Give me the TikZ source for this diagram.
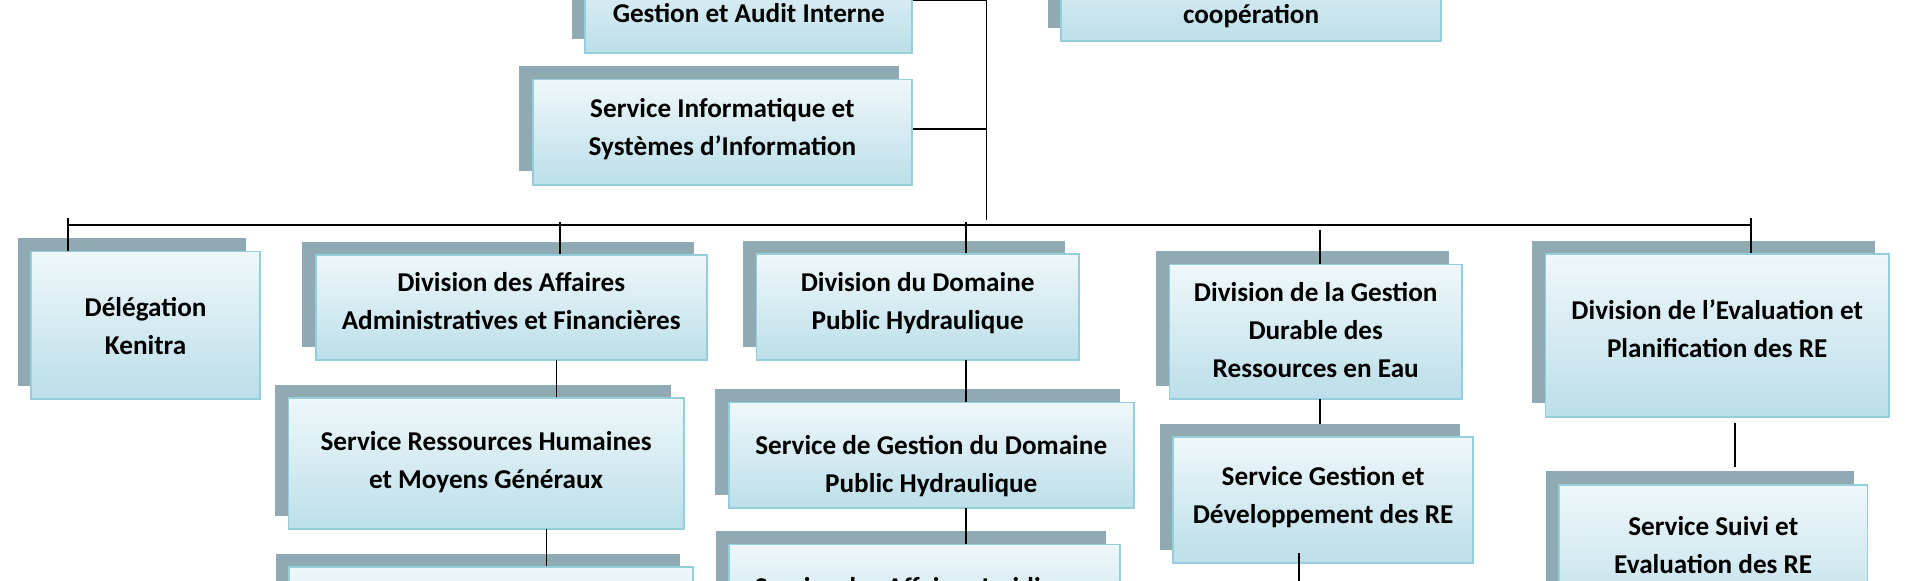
\documentclass[tikz,border=0pt]{standalone}
\usepackage{fontspec}
\setmainfont{Carlito}
\usetikzlibrary{shadows}
\definecolor{shadowc}{HTML}{8FAAB2}
\definecolor{boxborder}{HTML}{94CEDD}
\definecolor{boxbot}{HTML}{B8DDE8}
\definecolor{boxtop}{HTML}{FCFEFE}
\pgfdeclareverticalshading{boxgrad}{100bp}{color(0bp)=(boxbot); color(22bp)=(boxbot); color(88bp)=(boxtop); color(100bp)=(boxtop)}
\begin{document}
\begin{tikzpicture}[x=1pt,y=-1pt,
  orgbox/.style={rectangle, draw=boxborder, line width=1.4pt, shade, shading=boxgrad, inner sep=0pt,
    general shadow={fill=shadowc, shadow xshift=-11pt, shadow yshift=11pt}},
  lbl/.style={font=\fontsize{22.2}{31}\selectfont\bfseries, align=center, anchor=base, inner sep=0pt, text=black},
  conn/.style={line width=1.2pt, black},
  bus/.style={line width=1.5pt, black}]
\useasboundingbox (0,0) rectangle (1568,473.67);
\fill[white] (0,0) rectangle (1568,473.67);
\clip (0,0) rectangle (1568,473.67);

% boxes
\node[orgbox, minimum width=267pt, minimum height=85pt] (gai) at (611.5,0.5) {};
\node[orgbox, minimum width=310.5pt, minimum height=85pt] (coop) at (1021.75,-8.8) {};
\node[orgbox, minimum width=310pt, minimum height=86pt] (sisi) at (590,108) {};
\node[orgbox, minimum width=186.7pt, minimum height=120.4pt] (del) at (118.9,265.7) {};
\node[orgbox, minimum width=319.5pt, minimum height=85.7pt] (dadm) at (417.75,251.15) {};
\node[orgbox, minimum width=323.1pt, minimum height=107pt] (srh) at (397.05,378.8) {};
\node[orgbox, minimum width=329.9pt, minimum height=100pt] (bl) at (401.25,513.3) {};
\node[orgbox, minimum width=263.2pt, minimum height=86.3pt] (ddph) at (749.4,250.85) {};
\node[orgbox, minimum width=330.7pt, minimum height=86.3pt] (sgdph) at (760.55,371.95) {};
\node[orgbox, minimum width=319.2pt, minimum height=86pt] (saj) at (755,487.6) {};
\node[orgbox, minimum width=239pt, minimum height=110pt] (dgdre) at (1074.5,270.9) {};
\node[orgbox, minimum width=244.8pt, minimum height=103pt] (sgdre) at (1080.6,408.5) {};
\node[orgbox, minimum width=280.3pt, minimum height=132.6pt] (deval) at (1402.35,274) {};
\node[orgbox, minimum width=251.8pt, minimum height=120pt] (sser) at (1399.1,456) {};

% texts
\node[lbl] (t-gai) at (611.5,18.5) {Gestion et Audit Interne};
\node[lbl] (t-coop) at (1021.75,19) {coopération};
\node[lbl] (t-sisi) at (590,127) {Service Informatique et\\Systèmes d’Information};
\node[lbl] (t-del) at (118.9,289.8) {Délégation\\Kenitra};
\node[lbl] (t-dadm) at (417.5,269.4) {Division des Affaires\\Administratives et Financières};
\node[lbl] (t-srh) at (397,398.7) {Service Ressources Humaines\\et Moyens Généraux};
\node[lbl] (t-ddph) at (749.4,269.4) {Division du Domaine\\Public Hydraulique};
\node[lbl] (t-sgdph) at (760.5,402) {Service de Gestion du Domaine\\Public Hydraulique};
\node[lbl] (t-saj) at (755,487) {Service des Affaires Juridiques};
\node[lbl] (t-dgdre) at (1074.5,308.4) {Division de la Gestion\\Durable des\\Ressources en Eau};
\node[lbl] (t-sgdre) at (1080.6,427.7) {Service Gestion et\\Développement des RE};
\node[lbl] (t-deval) at (1402.35,292) {Division de l’Evaluation et\\Planification des RE};
\node[lbl] (t-sser) at (1399.1,468) {Service Suivi et\\Evaluation des RE};

% connectors
\coordinate (trunkTop) at (805.5,0.5);
\coordinate (trunkBot) at (805.5,180);
\coordinate (sisiJ) at (805.5,105.3);
\draw[conn] (gai.east) -- (trunkTop) -- (trunkBot);
\draw[conn] (sisiJ -| sisi.east) -- (sisiJ);

\coordinate (busL) at (54.7,183.7);
\coordinate (busR) at (1429.8,183.7);
\draw[bus] (busL) -- (busR);

\coordinate (jDel) at (55.5,178);
\coordinate (jAdm) at (457.4,181);
\coordinate (jDom) at (789,181);
\coordinate (jGdr) at (1077.8,187.8);
\coordinate (jEva) at (1429.8,178);
\draw[conn] (jDel) -- (jDel |- del.north);
\draw[conn] (jAdm) -- (jAdm |- dadm.north);
\draw[conn] (jDom) -- (jDom |- ddph.north);
\draw[conn] (jGdr) -- (jGdr |- dgdre.north);
\draw[conn] (jEva) -- (jEva |- deval.north);

\coordinate (kAdm) at (454.5,294);
\coordinate (kSrh) at (446.4,432.3);
\coordinate (kDom) at (789,294);
\coordinate (kDom2) at (789,415.1);
\coordinate (kGdr) at (1077.8,325.9);
\coordinate (kGdrE) at (1077.8,346.3);
\coordinate (kSg) at (1061,452);
\coordinate (kSgE) at (1061,480);
\coordinate (kEva) at (1416.9,345.7);
\coordinate (kEvaE) at (1416.9,381.6);
\draw[conn] (kAdm) -- (kAdm |- srh.north);
\draw[conn] (kSrh) -- (kSrh |- bl.north);
\draw[conn] (kDom) -- (kDom |- sgdph.north);
\draw[conn] (kDom2) -- (kDom2 |- saj.north);
\draw[conn] (kGdr) -- (kGdrE);
\draw[conn] (kSg) -- (kSgE);
\draw[conn] (kEva) -- (kEvaE);
\end{tikzpicture}
\end{document}
